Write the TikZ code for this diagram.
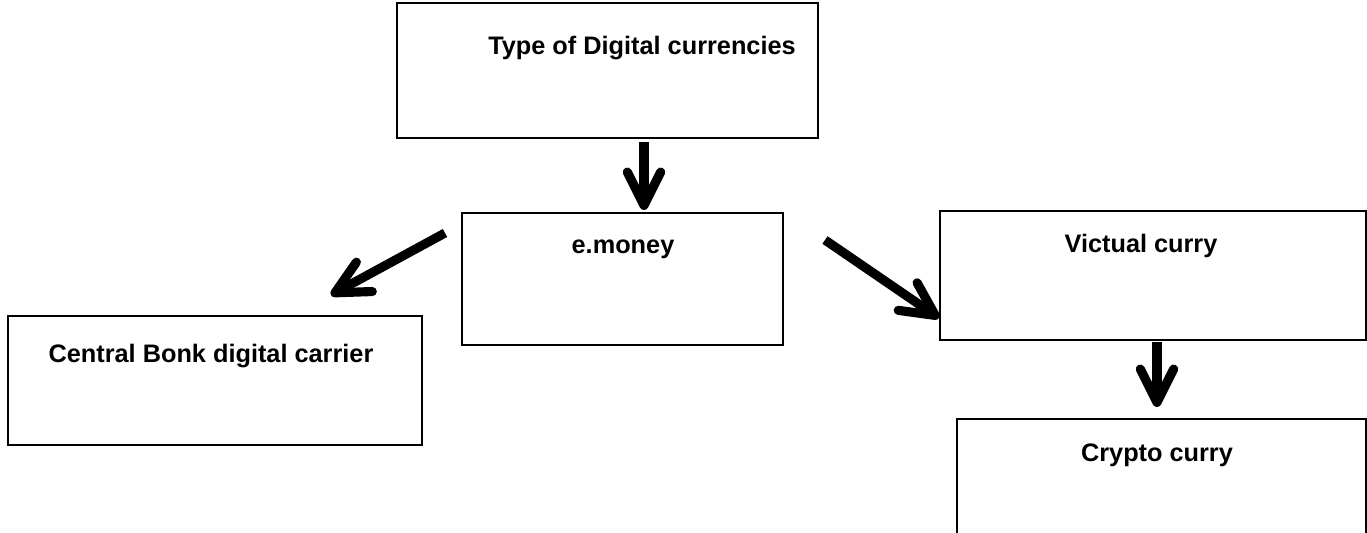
\documentclass[tikz,border=0pt]{standalone}
\usepackage{fontspec}
\setmainfont{Liberation Sans}
\usetikzlibrary{arrows.meta}
\tikzset{
  box/.style={draw,line width=0.8pt,inner sep=0pt},
  lbl/.style={font=\bfseries\fontsize{14.4}{17}\selectfont,inner sep=0pt},
  bigarrow/.style={line width=5.2pt,-{Straight Barb[round,length=19pt,width=19pt]}},
}
\begin{document}
\begin{tikzpicture}[x=0.02cm,y=-0.02cm]
\useasboundingbox (0,0) rectangle (1367,533);

\node[box,minimum width=421*0.02cm,minimum height=135*0.02cm] (types) at (607.5,70.5) {};
\node[box,minimum width=321*0.02cm,minimum height=132*0.02cm] (emoney) at (622.5,279) {};
\node[box,minimum width=426*0.02cm,minimum height=129*0.02cm] (virtual) at (1153,275.5) {};
\node[box,minimum width=414*0.02cm,minimum height=129*0.02cm] (cbdc) at (215,380.5) {};
\node[box,minimum width=409*0.02cm,minimum height=160*0.02cm] (crypto) at (1161.5,499) {};

\node[lbl] (typesl) at (642,48) {Type of Digital currencies};
\node[lbl] (emoneyl) at (623,249) {e.money};
\node[lbl] (virtuall) at (1141,246) {Victual curry};
\node[lbl] (cbdcl) at (211,356) {Central Bonk digital carrier};
\node[lbl] (cryptol) at (1157,455) {Crypto curry};

\coordinate (a1) at (644,142);
\coordinate (a2) at (644,210);
\coordinate (b1) at (445,233);
\coordinate (b2) at (331,295);
\coordinate (c1) at (825,240);
\coordinate (c2) at (939,318);
\coordinate (d1) at (1157,342);
\coordinate (d2) at (1157,407);

\draw[bigarrow] (a1) -- (a2);
\draw[bigarrow] (b1) -- (b2);
\draw[bigarrow] (c1) -- (c2);
\draw[bigarrow] (d1) -- (d2);

\end{tikzpicture}
\end{document}
